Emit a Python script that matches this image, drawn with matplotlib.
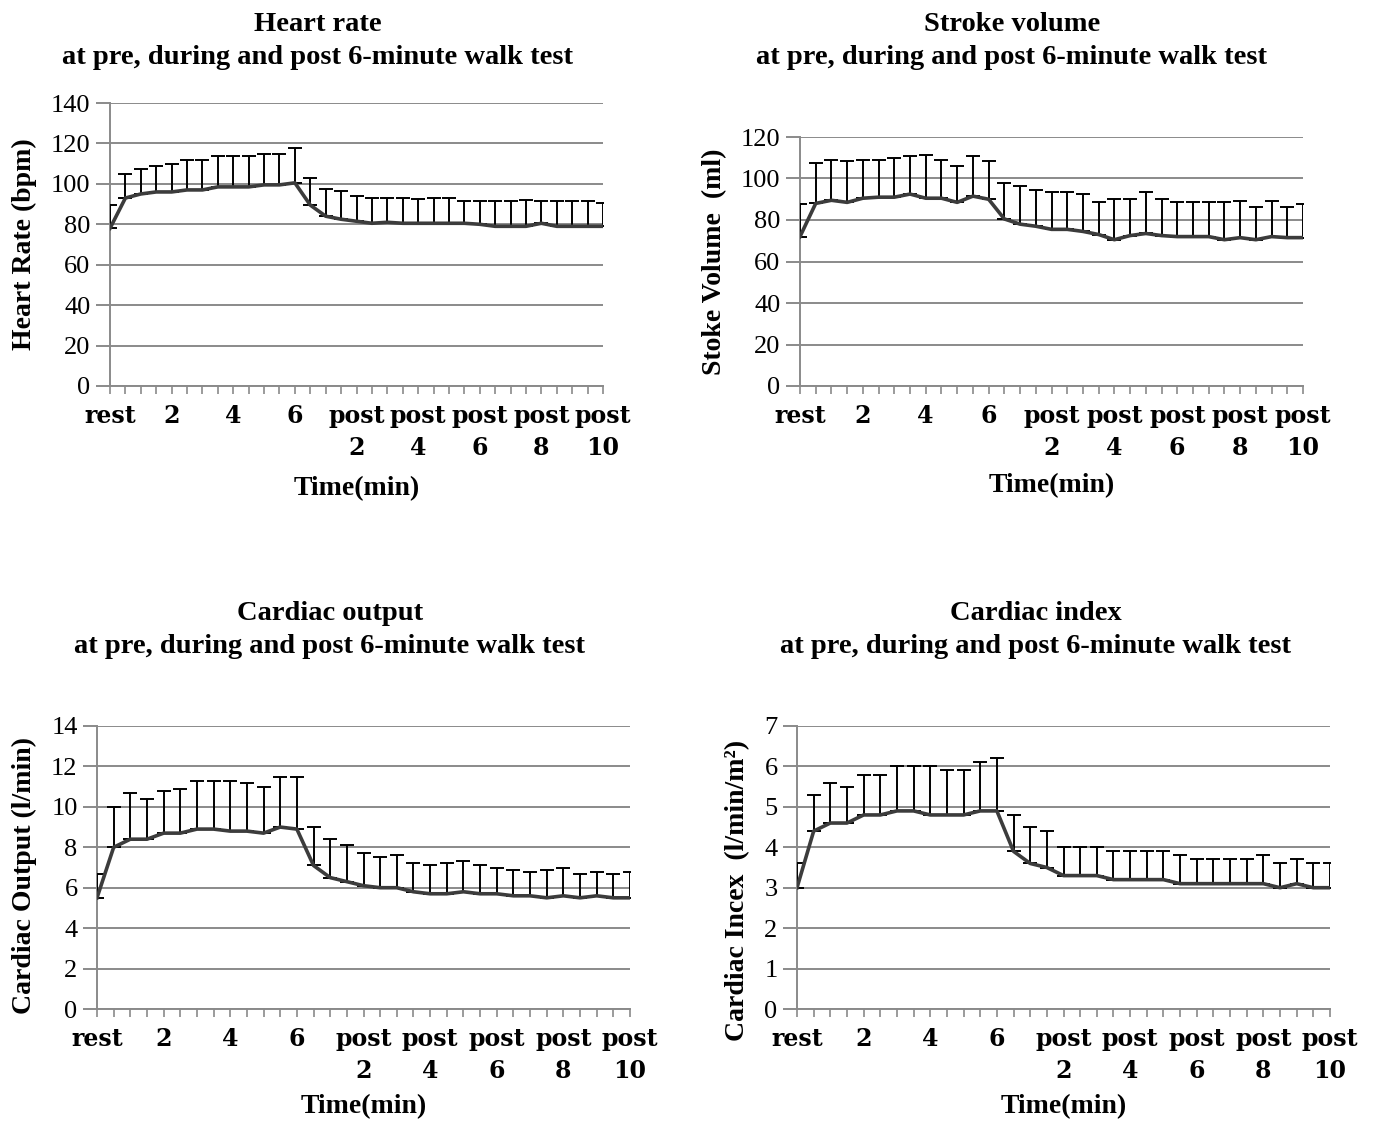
import matplotlib
matplotlib.use("Agg")
import matplotlib.pyplot as plt
from matplotlib.ticker import MultipleLocator

plt.rcParams["font.family"] = "Liberation Serif"

# Kategorien (alle 30 s): rest, 0.5 ... 6 min, post 0.5 ... post 10 min
x_labels = ["rest", "2", "4", "6", "post\n2", "post\n4", "post\n6", "post\n8", "post\n10"]
n_points = 33

# Heart rate (bpm)
hr_mean = [78, 93, 95, 96, 96, 97, 97, 98.5, 98.5, 98.5, 99.5, 99.5, 100.5, 89.5, 84, 82.5, 81.5,
           80.5, 81, 80.5, 80.5, 80.5, 80.5, 80.5, 80, 79, 79, 79, 80.5, 79, 79, 79, 79]
hr_sd = [11.5, 12, 12.5, 13, 14, 15, 15, 15.5, 15.5, 15.5, 15.5, 15.5, 17, 13.5, 13.5, 14, 12.5,
         12.5, 12, 12.5, 12, 12.5, 12.5, 11, 11.5, 12.5, 12.5, 13, 11, 12.5, 12.5, 12.5, 11.5]

# Stroke volume (ml)
sv_mean = [72, 88, 89.5, 88.5, 90.5, 91, 91, 92.5, 90.5, 90.5, 88.5, 91.5, 90, 80.5, 78, 77, 75.5,
           75.5, 74.5, 73, 70.5, 72.5, 73.5, 72.5, 72, 72, 72, 70.5, 71.5, 70.5, 72, 71.5, 71.5]
sv_sd = [15.5, 19.5, 19.5, 20, 18.5, 18, 19, 18.5, 21, 18.5, 17.5, 19.5, 18.5, 17.5, 18.5, 17.5, 18,
         18, 18, 15.5, 19.5, 17.5, 20, 17.5, 16.5, 16.5, 16.5, 18, 17.5, 16, 17, 15, 16]

# Cardiac output (l/min)
co_mean = [5.5, 8.0, 8.4, 8.4, 8.7, 8.7, 8.9, 8.9, 8.8, 8.8, 8.7, 9.0, 8.9, 7.1, 6.5, 6.3, 6.1,
           6.0, 6.0, 5.8, 5.7, 5.7, 5.8, 5.7, 5.7, 5.6, 5.6, 5.5, 5.6, 5.5, 5.6, 5.5, 5.5]
co_sd = [1.2, 2.0, 2.3, 2.0, 2.1, 2.2, 2.4, 2.4, 2.5, 2.4, 2.3, 2.5, 2.6, 1.9, 1.9, 1.8, 1.6,
         1.5, 1.6, 1.4, 1.4, 1.5, 1.5, 1.4, 1.3, 1.3, 1.2, 1.4, 1.4, 1.2, 1.2, 1.2, 1.3]

# Cardiac index (l/min/m2)
ci_mean = [3.0, 4.4, 4.6, 4.6, 4.8, 4.8, 4.9, 4.9, 4.8, 4.8, 4.8, 4.9, 4.9, 3.9, 3.6, 3.5, 3.3,
           3.3, 3.3, 3.2, 3.2, 3.2, 3.2, 3.1, 3.1, 3.1, 3.1, 3.1, 3.1, 3.0, 3.1, 3.0, 3.0]
ci_sd = [0.6, 0.9, 1.0, 0.9, 1.0, 1.0, 1.1, 1.1, 1.2, 1.1, 1.1, 1.2, 1.3, 0.9, 0.9, 0.9, 0.7,
         0.7, 0.7, 0.7, 0.7, 0.7, 0.7, 0.7, 0.6, 0.6, 0.6, 0.6, 0.7, 0.6, 0.6, 0.6, 0.6]

W, H = 1376, 1122
fig = plt.figure(figsize=(W / 100, H / 100), dpi=100)

title_font = dict(family="Liberation Serif", weight="bold", size=20.5)
label_font = dict(family="Liberation Serif", weight="bold", size=20)
tick_font = dict(family="DejaVu Serif", weight="bold", size=17)

def px_axes(left, right, top, bottom):
    return fig.add_axes([left / W, 1 - bottom / H, (right - left) / W, (bottom - top) / H])

panels = [
    # (box px, mean, sd, ymax, ystep, ylabel, ylabel x, ylabel y, xlabel y, title, title x, title y)
    ((110, 603, 103, 386), hr_mean, hr_sd, 140, 20, "Heart Rate (bpm)", -0.148, 0.5, -0.32,
     "Heart rate\nat pre, during and post 6-minute walk test", 318, 41),
    ((800, 1303, 137, 386), sv_mean, sv_sd, 120, 20, "Stoke Volume  (ml)", -0.145, 0.5, -0.35,
     "Stroke volume\nat pre, during and post 6-minute walk test", 1012, 41),
    ((97, 630, 726, 1009), co_mean, co_sd, 14, 2, "Cardiac Output (l/min)", -0.113, 0.47, -0.30,
     "Cardiac output\nat pre, during and post 6-minute walk test", 330, 630),
    ((797, 1330, 726, 1009), ci_mean, ci_sd, 7, 1, "Cardiac Incex  (l/min/m²)", -0.088, 0.42, -0.30,
     "Cardiac index\nat pre, during and post 6-minute walk test", 1036, 630),
]

for box, mean, sd, ymax, ystep, ylab, ylx, yly, xly, title, tx, ty in panels:
    ax = px_axes(*box)
    x = list(range(n_points))
    ax.errorbar(x, mean, yerr=[[0] * n_points, sd], fmt="none", ecolor="black",
                elinewidth=1.4, capsize=5, capthick=1.4, zorder=3)
    ax.plot(x, mean, color="#3c3c3c", lw=2.6, zorder=4)

    ax.set_xlim(0, n_points - 1)
    ax.set_ylim(0, ymax)
    ax.yaxis.set_major_locator(MultipleLocator(ystep))
    ax.grid(axis="y", color="#8a8a8a", lw=1.4)
    ax.set_axisbelow(True)

    ax.set_xticks(range(0, n_points, 4))
    ax.set_xticklabels(x_labels, **tick_font, va="top", linespacing=1.4)
    ax.xaxis.set_minor_locator(MultipleLocator(1))
    ax.tick_params(axis="x", which="both", direction="out", length=6, width=1.2,
                   color="#8a8a8a", pad=7)
    ax.tick_params(axis="y", direction="out", length=10, width=1.4, color="#8a8a8a", pad=4,
                   labelsize=19)

    for s in ["top", "right"]:
        ax.spines[s].set_visible(False)
    for s in ["left", "bottom"]:
        ax.spines[s].set_color("#8a8a8a")
        ax.spines[s].set_linewidth(1.4)

    ax.set_ylabel(ylab, **label_font)
    ax.yaxis.set_label_coords(ylx, yly)
    ax.set_xlabel("Time(min)", **label_font)
    ax.xaxis.set_label_coords(0.5, xly)

    fig.text(tx / W, 1 - ty / H, title, ha="center", va="center", linespacing=1.4, **title_font)

plt.savefig("out.png", dpi=100)
